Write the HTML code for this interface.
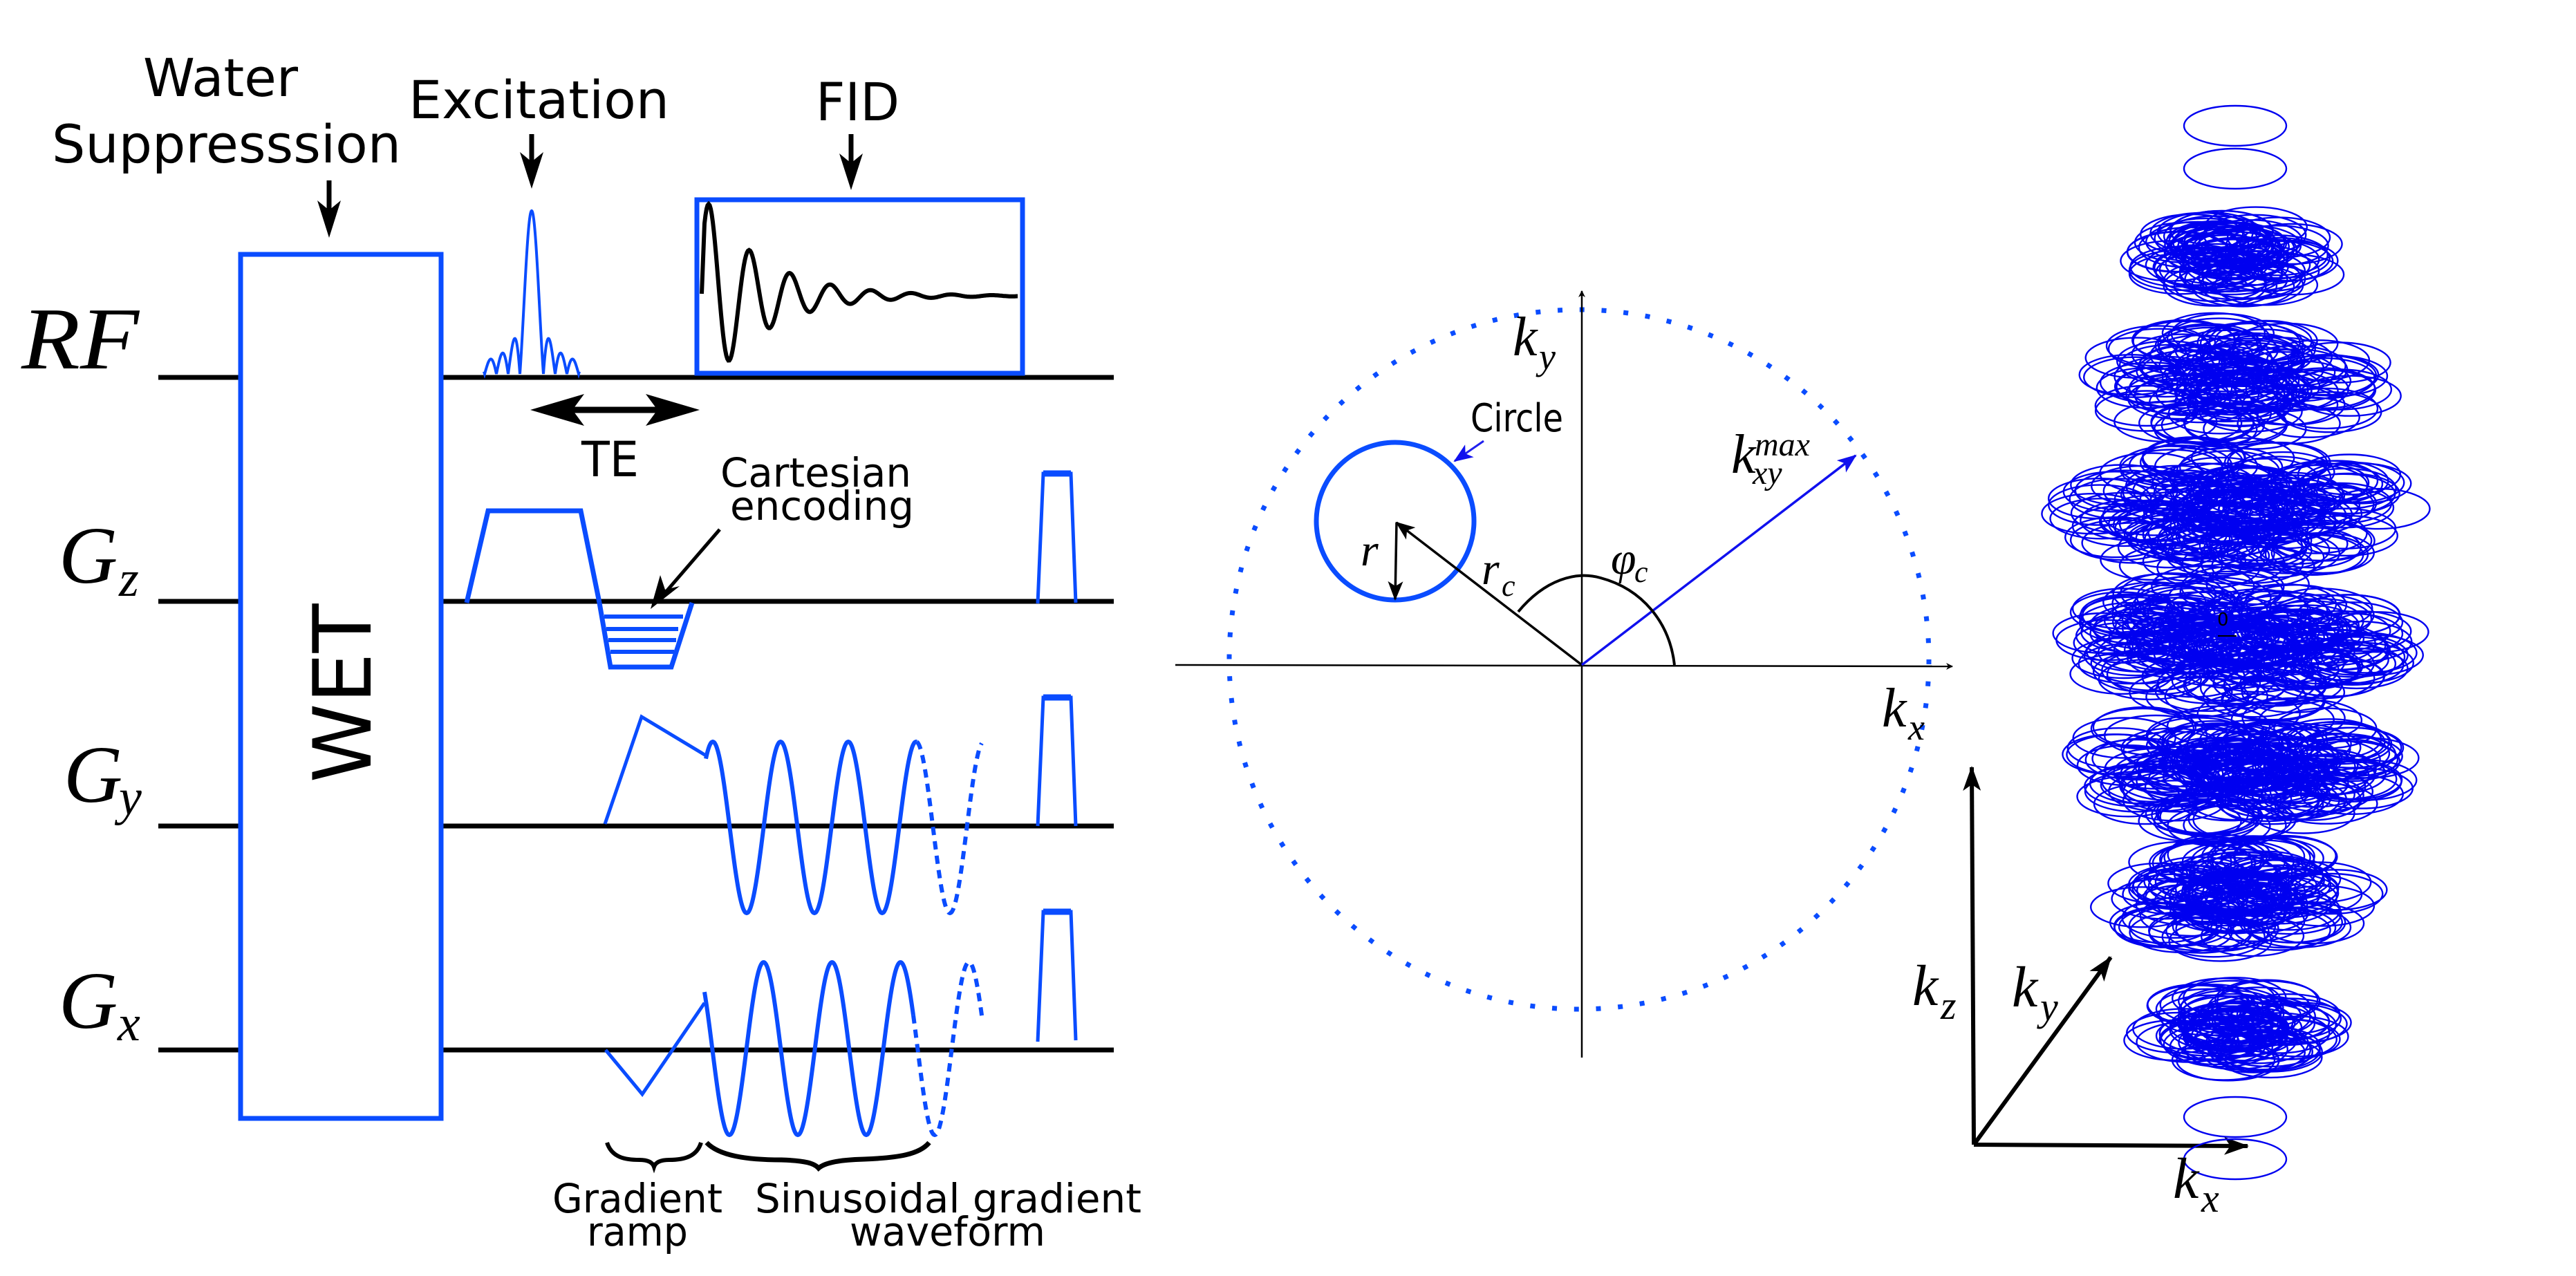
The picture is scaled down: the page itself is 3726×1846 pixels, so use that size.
<!DOCTYPE html>
<html><head><meta charset="utf-8">
<style>
html,body{margin:0;padding:0;background:#fff;}
svg{display:block;}
.s{font-family:"DejaVu Sans","Liberation Sans",sans-serif;fill:#000;}
.m{font-family:"Liberation Serif","DejaVu Serif",serif;font-style:italic;fill:#000;}
</style></head>
<body>
<svg id="sv" xmlns="http://www.w3.org/2000/svg" width="3726" height="1846" viewBox="0 0 3726 1846">
<rect width="3726" height="1846" fill="#fff"/>
<defs>
<marker id="ah" markerWidth="10" markerHeight="10" refX="9" refY="5" orient="auto" markerUnits="userSpaceOnUse"><path d="M0,0 L10,5 L0,10 L3,5 Z" fill="#000"/></marker>
<marker id="ahb" markerWidth="28" markerHeight="22" refX="26" refY="11" orient="auto" markerUnits="userSpaceOnUse"><path d="M0,0 L28,11 L0,22 L7,11 Z" fill="#1010ee"/></marker>
<marker id="ahk" markerWidth="28" markerHeight="22" refX="26" refY="11" orient="auto" markerUnits="userSpaceOnUse"><path d="M0,0 L28,11 L0,22 L7,11 Z" fill="#000"/></marker>
<marker id="ahk2" markerWidth="36" markerHeight="26" refX="34" refY="13" orient="auto" markerUnits="userSpaceOnUse"><path d="M0,0 L36,13 L0,26 L9,13 Z" fill="#000"/></marker>
</defs>

<g stroke="#000" stroke-width="7">
<line x1="229" y1="546" x2="1611" y2="546"/>
<line x1="229" y1="870" x2="1611" y2="870"/>
<line x1="229" y1="1195" x2="1611" y2="1195"/>
<line x1="229" y1="1519" x2="1611" y2="1519"/>
</g>

<rect x="348" y="368" width="290" height="1250" fill="#fff" stroke="#0a4cff" stroke-width="7"/>
<text class="s" x="0" y="0" font-size="116" text-anchor="middle" transform="translate(536,1003) rotate(-90)">WET</text>

<text class="m" x="31" y="533" font-size="128" textLength="170" lengthAdjust="spacingAndGlyphs">RF</text>
<text class="m" x="85" y="843" font-size="118">G</text><text class="m" x="172" y="862" font-size="74">z</text>
<text class="m" x="92" y="1160" font-size="118">G</text><text class="m" x="172" y="1178" font-size="74">y</text>
<text class="m" x="85" y="1487" font-size="118">G</text><text class="m" x="170" y="1505" font-size="74">x</text>

<text class="s" x="207" y="139" font-size="76" textLength="224" lengthAdjust="spacingAndGlyphs">Water</text>
<text class="s" x="75" y="235" font-size="76" textLength="505" lengthAdjust="spacingAndGlyphs">Suppresssion</text>
<text class="s" x="591" y="171" font-size="76" textLength="377" lengthAdjust="spacingAndGlyphs">Excitation</text>
<text class="s" x="1180" y="174" font-size="76" textLength="121" lengthAdjust="spacingAndGlyphs">FID</text>
<text class="s" x="841" y="689" font-size="70" textLength="83" lengthAdjust="spacingAndGlyphs">TE</text>
<text class="s" x="1042" y="704" font-size="58" textLength="276" lengthAdjust="spacingAndGlyphs">Cartesian</text>
<text class="s" x="1056" y="752" font-size="58" textLength="266" lengthAdjust="spacingAndGlyphs">encoding</text>
<text class="s" x="799" y="1754" font-size="58" textLength="246" lengthAdjust="spacingAndGlyphs">Gradient</text>
<text class="s" x="849" y="1802" font-size="58" textLength="146" lengthAdjust="spacingAndGlyphs">ramp</text>
<text class="s" x="1092" y="1754" font-size="58" textLength="559" lengthAdjust="spacingAndGlyphs">Sinusoidal gradient</text>
<text class="s" x="1229" y="1802" font-size="58" textLength="283" lengthAdjust="spacingAndGlyphs">waveform</text>

<g stroke="#000" stroke-width="7" fill="#000">
<line x1="476" y1="261" x2="476" y2="310"/><path d="M459,290 L476,344 L493,290 L476,304Z" stroke="none"/>
<line x1="769" y1="194" x2="769" y2="240"/><path d="M752,220 L769,273 L786,220 L769,234Z" stroke="none"/>
<line x1="1231" y1="194" x2="1231" y2="242"/><path d="M1214,222 L1231,275 L1248,222 L1231,236Z" stroke="none"/>
</g>

<line x1="810" y1="593" x2="970" y2="593" stroke="#000" stroke-width="9"/>
<path d="M767,593 L845,570 L828,593 L845,616Z" fill="#000"/>
<path d="M1012,593 L934,570 L951,593 L934,616Z" fill="#000"/>

<rect x="1008" y="289" width="471" height="251" fill="none" stroke="#0a4cff" stroke-width="7"/>
<path id="fid" fill="none" stroke="#000" stroke-width="6" d=""/>
<path id="sinc" fill="none" stroke="#0a4cff" stroke-width="4" d=""/>

<polyline points="675,872 706,739 840,739 867,872" fill="none" stroke="#0a4cff" stroke-width="7"/>
<polyline points="867,872 883,965 971,965 1001,872" fill="none" stroke="#0a4cff" stroke-width="7"/>
<g stroke="#0a4cff" stroke-width="6">
<line x1="874" y1="892" x2="988" y2="892"/>
<line x1="877" y1="910" x2="981" y2="910"/>
<line x1="880" y1="926" x2="978" y2="926"/>
<line x1="883" y1="943" x2="975" y2="943"/>
</g>
<line x1="1041" y1="766" x2="960" y2="860" stroke="#000" stroke-width="5"/>
<path d="M941,881 L955,832 L962,853 L983,848Z" fill="#000"/>

<g fill="none" stroke="#0a4cff" stroke-width="5">
<polyline points="1501,873 1509,685 1549,685 1556,872"/>
<polyline points="1501,1195 1509,1009 1549,1009 1556,1195"/>
<polyline points="1501,1507 1509,1319 1549,1319 1556,1505"/>
</g>
<g stroke="#0a4cff" stroke-width="9">
<line x1="1509" y1="685" x2="1549" y2="685"/>
<line x1="1509" y1="1009" x2="1549" y2="1009"/>
<line x1="1509" y1="1319" x2="1549" y2="1319"/>
</g>

<polyline points="875,1192 928,1037 1021,1093" fill="none" stroke="#0a4cff" stroke-width="5"/>
<polyline points="876,1519 929,1583 1019,1451" fill="none" stroke="#0a4cff" stroke-width="5"/>
<path id="gys" fill="none" stroke="#0a4cff" stroke-width="6"/>
<path id="gyd" fill="none" stroke="#0a4cff" stroke-width="6" stroke-dasharray="12 9"/>
<path id="gxs" fill="none" stroke="#0a4cff" stroke-width="6"/>
<path id="gxd" fill="none" stroke="#0a4cff" stroke-width="6" stroke-dasharray="12 9"/>

<path d="M878,1653 C885,1675 905,1678 925,1678 C938,1678 944,1682 946,1688 C948,1682 955,1678 968,1678 C990,1678 1008,1673 1014,1653" fill="none" stroke="#000" stroke-width="6"/>
<path d="M1022,1653 C1040,1672 1080,1678 1130,1678 C1165,1679 1178,1683 1184,1690 C1192,1683 1210,1678 1250,1677 C1300,1675 1330,1670 1344,1653" fill="none" stroke="#000" stroke-width="7"/>

<circle cx="2284" cy="954" r="506" fill="none" stroke="#0a4cff" stroke-width="7" stroke-dasharray="7 24.8"/>
<line x1="1700" y1="962" x2="2824" y2="964" stroke="#000" stroke-width="2.5" marker-end="url(#ah)"/>
<line x1="2288" y1="1530" x2="2288" y2="421" stroke="#000" stroke-width="2.5" marker-end="url(#ah)"/>
<circle cx="2018" cy="754" r="114" fill="none" stroke="#0a4cff" stroke-width="7"/>
<line x1="2146" y1="638" x2="2104" y2="667" stroke="#2020ee" stroke-width="3" marker-end="url(#ahb)"/>
<line x1="2288" y1="962" x2="2020" y2="756" stroke="#000" stroke-width="3.5" marker-end="url(#ahk)"/>
<line x1="2020" y1="756" x2="2018" y2="867" stroke="#000" stroke-width="3.5" marker-end="url(#ahk)"/>
<line x1="2288" y1="962" x2="2684" y2="659" stroke="#1010ee" stroke-width="3.5" marker-end="url(#ahb)"/>
<path d="M2196,885 C2235,838 2280,826 2315,836 C2375,852 2415,900 2422,962" fill="none" stroke="#000" stroke-width="4"/>
<text class="s" x="2127" y="624" font-size="56" textLength="134" lengthAdjust="spacingAndGlyphs">Circle</text>
<text class="m" x="1968" y="818" font-size="66">r</text>
<text class="m" x="2143" y="845" font-size="66">r</text><text class="m" x="2172" y="862" font-size="44">c</text>
<text class="m" x="2330" y="830" font-size="66">φ</text><text class="m" x="2364" y="842" font-size="44">c</text>
<text class="m" x="2504" y="684" font-size="80">k</text><text class="m" x="2538" y="659" font-size="48">max</text><text class="m" x="2535" y="700" font-size="48">xy</text>
<text class="m" x="2188" y="514" font-size="80">k</text><text class="m" x="2226" y="534" font-size="54">y</text>
<text class="m" x="2722" y="1051" font-size="80">k</text><text class="m" x="2760" y="1070" font-size="54">x</text>

<g stroke="#000" stroke-width="6">
<line x1="2855" y1="1656" x2="2852" y2="1110" marker-end="url(#ahk2)"/>
<line x1="2855" y1="1656" x2="3053" y2="1385" marker-end="url(#ahk2)"/>
<line x1="2855" y1="1656" x2="3251" y2="1658" marker-end="url(#ahk2)"/>
</g>
<g id="ell" fill="none" stroke="#0000f0" stroke-width="2.4"></g>
<text class="s" x="3207" y="905" font-size="26">0</text>
<line x1="3208" y1="920" x2="3235" y2="920" stroke="#000" stroke-width="2"/>
<text class="m" x="2766" y="1454" font-size="84">k</text><text class="m" x="2807" y="1474" font-size="58">z</text>
<text class="m" x="2910" y="1456" font-size="84">k</text><text class="m" x="2951" y="1476" font-size="58">y</text>
<text class="m" x="3143" y="1733" font-size="84">k</text><text class="m" x="3184" y="1753" font-size="58">x</text>
</svg>
<script>
function P(f,a,b,st){var s="";for(var x=a;x<=b+0.001;x+=st){s+=(s?"L":"M")+x.toFixed(1)+","+f(x).toFixed(1);}return s;}
var fid=function(x){return 428-132*Math.exp(-(x-1026)/84)*Math.cos(2*Math.PI*(x-1026)/58.5);};
document.getElementById("fid").setAttribute("d","M1015,425"+P(fid,1019,1473,1.5).replace(/^M/,"L"));
var sinc=function(x){var t=(x-769)/17;var v=Math.abs(t)<1e-6?1:Math.sin(Math.PI*t)/(Math.PI*t);return 541-236*Math.abs(v);};
document.getElementById("sinc").setAttribute("d",P(sinc,700,838,0.5));
var gy=function(x){return 1197-124*Math.cos(2*Math.PI*(x-1031)/98);};
document.getElementById("gys").setAttribute("d",P(gy,1021,1326,1));
document.getElementById("gyd").setAttribute("d",P(gy,1326,1420,1));
var gx=function(x){return 1517+125*Math.cos(2*Math.PI*(x-1055)/99);};
document.getElementById("gxs").setAttribute("d",P(gx,1019,1321,1));
document.getElementById("gxd").setAttribute("d",P(gx,1321,1421,1));
var seed=12345;function rnd(){seed=(seed*1103515245+12345)%2147483648;return seed/2147483648;}
var g=document.getElementById("ell"),h="";
function E(cx,cy){h+='<ellipse cx="'+cx.toFixed(1)+'" cy="'+cy.toFixed(1)+'" rx="74" ry="29"/>';}
[182,244,1616,1677].forEach(function(y){E(3233,y);});
[[374,98,70],[553,170,110],[742,210,160],[930,212,180],[1112,200,160],[1295,158,110],[1489,98,70]].forEach(function(c){
 for(var i=0;i<c[2];i++){var a=rnd()*Math.PI*2,r=Math.pow(rnd(),0.7);
  E(3236+Math.cos(a)*r*c[1],c[0]+Math.sin(a)*r*(c[1]*0.36+12));}
});
g.innerHTML=h;
</script>
</body></html>
